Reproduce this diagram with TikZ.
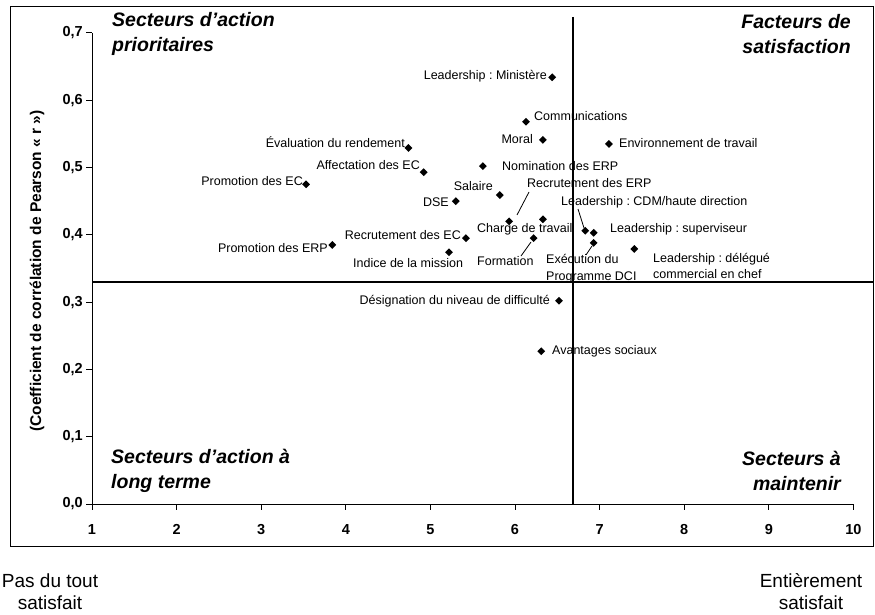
\documentclass[tikz,border=0pt]{standalone}
\usepackage{fontspec}
\setmainfont{Liberation Sans}
\usetikzlibrary{shapes.geometric}
\frenchspacing
\begin{document}
\begin{tikzpicture}[x=1pt,y=-1pt,
  dpt/.style={diamond,fill=black,inner sep=0pt,minimum size=8pt},
  lab/.style={font=\fontsize{12.5}{16.5}\selectfont,inner sep=0pt},
  quad/.style={font=\fontsize{19.5}{25.5}\selectfont\bfseries\itshape,inner sep=0pt},
  ticklab/.style={font=\fontsize{14.5}{16}\selectfont\bfseries,inner sep=0pt},
  endlab/.style={font=\fontsize{19}{22}\selectfont,inner sep=0pt,align=center},
  leader/.style={line width=0.8pt},
  divider/.style={line width=1.6pt},
  axis/.style={line width=0.9pt}]
\useasboundingbox (0,0) rectangle (875,615);
% frame
\draw[line width=0.8pt] (10,6) rectangle (873,546);
% axes
\coordinate (O) at (92,504);
\coordinate (ytop) at (92,33);
\coordinate (xend) at (853,504);
\draw[axis] (ytop) -- (O) -- (xend);
\foreach \i in {0,...,7}{
  \draw[axis] (86,{504-67.3*\i}) -- (92,{504-67.3*\i});
  \node[ticklab,anchor=east] (yt\i) at (83,{504-67.3*\i}) {0,\i};
}
\foreach \i in {1,...,10}{
  \draw[axis] ({92+84.6*(\i-1)},504) -- ({92+84.6*(\i-1)},510);
  \node[ticklab,anchor=base] (xt\i) at ({92+84.6*(\i-1)},534.5) {\i};
}
% axis title
\node[font=\fontsize{15.5}{17}\selectfont\bfseries,rotate=90,inner sep=0pt] (ytitle) at (37,271)
  {(Coefficient de corrélation de Pearson « r »)};
% dividers
\coordinate (vtop) at (573,17);
\coordinate (vbot) at (573,504);
\coordinate (hl) at (92,282);
\coordinate (hr) at (873,282);
\draw[divider] (vtop) -- (vbot);
\draw[divider] (hl) -- (hr);
% quadrant titles
\node[quad,anchor=west,align=left] (q1) at (112,34) {Secteurs d’action\\prioritaires};
\node[quad,anchor=east,align=right] (q2) at (851,34) {Facteurs de\\satisfaction};
\node[quad,anchor=west,align=left] (q3) at (111,471) {Secteurs d’action à\\long terme};
\node[quad,anchor=east,align=right] (q4) at (841,471) {Secteurs à\\maintenir};
% end labels
\node[endlab] (pas) at (50,592) {Pas du tout\\satisfait};
\node[endlab] (ent) at (811,592) {Entièrement\\satisfait};
% data points
\begin{scope}[shift={(7.4pt,-504pt)},x=84.6pt,y=673pt]
\node[dpt] (min) at (6.44,0.634) {};
\node[dpt] (comm) at (6.13,0.568) {};
\node[dpt] (moral) at (6.33,0.541) {};
\node[dpt] (env) at (7.11,0.535) {};
\node[dpt] (eval) at (4.74,0.529) {};
\node[dpt] (nomi) at (5.62,0.502) {};
\node[dpt] (affe) at (4.92,0.493) {};
\node[dpt] (promec) at (3.53,0.475) {};
\node[dpt] (sal) at (5.82,0.459) {};
\node[dpt] (dse) at (5.30,0.450) {};
\node[dpt] (rerp) at (5.93,0.420) {};
\node[dpt] (charge) at (6.33,0.423) {};
\node[dpt] (cdm) at (6.83,0.406) {};
\node[dpt] (sup) at (6.93,0.403) {};
\node[dpt] (recec) at (5.42,0.395) {};
\node[dpt] (form) at (6.22,0.395) {};
\node[dpt] (exec) at (6.93,0.388) {};
\node[dpt] (prerp) at (3.84,0.385) {};
\node[dpt] (del) at (7.41,0.379) {};
\node[dpt] (indice) at (5.22,0.374) {};
\node[dpt] (desig) at (6.52,0.302) {};
\node[dpt] (avant) at (6.31,0.227) {};
\end{scope}
% labels
\node[lab,anchor=east] (lmin) at (547,76) {Leadership : Ministère};
\node[lab,anchor=west] (lcomm) at (534,116) {Communications};
\node[lab,anchor=east] (lmoral) at (533,139) {Moral};
\node[lab,anchor=west] (lenv) at (619,143) {Environnement de travail};
\node[lab,anchor=east] (leval) at (405,142) {Évaluation du rendement};
\node[lab,anchor=east] (laffe) at (420,165) {Affectation des EC};
\node[lab,anchor=west] (lnomi) at (502,166) {Nomination des ERP};
\node[lab,anchor=east] (lpromec) at (303,181) {Promotion des EC};
\node[lab,anchor=east] (lsal) at (493,186) {Salaire};
\node[lab,anchor=west] (lrerp) at (527,183) {Recrutement des ERP};
\node[lab,anchor=east] (ldse) at (449,202) {DSE};
\node[lab,anchor=west] (lcdm) at (561,202) {Leadership : CDM/haute direction};
\node[lab,anchor=west] (lcharge) at (477,229) {Charge de travail};
\node[lab,anchor=west] (lsup) at (610,229) {Leadership : superviseur};
\node[lab,anchor=east] (lrecec) at (461,235) {Recrutement des EC};
\node[lab,anchor=east] (lprerp) at (328,248) {Promotion des ERP};
\node[lab,anchor=west] (lindice) at (353,263) {Indice de la mission};
\node[lab,anchor=west] (lform) at (477,261) {Formation};
\node[lab,anchor=west,align=left] (lexec) at (546,268.5) {Exécution du\\Programme DCI};
\node[lab,anchor=west,align=left] (ldel) at (653,266) {Leadership : délégué\\commercial en chef};
\node[lab,anchor=east] (ldesig) at (550,301) {Désignation du niveau de difficulté};
\node[lab,anchor=west] (lavant) at (552,351) {Avantages sociaux};
% leader lines
\coordinate (rerpA) at (529,192); \coordinate (rerpB) at (517,215);
\coordinate (cdmA) at (578,209); \coordinate (cdmB) at (584,228);
\coordinate (formA) at (531,242); \coordinate (formB) at (521,256);
\coordinate (execA) at (592,246); \coordinate (execB) at (586,255);
\draw[leader] (rerpA) -- (rerpB);
\draw[leader] (cdmA) -- (cdmB);
\draw[leader] (formA) -- (formB);
\draw[leader] (execA) -- (execB);
\end{tikzpicture}
\end{document}
